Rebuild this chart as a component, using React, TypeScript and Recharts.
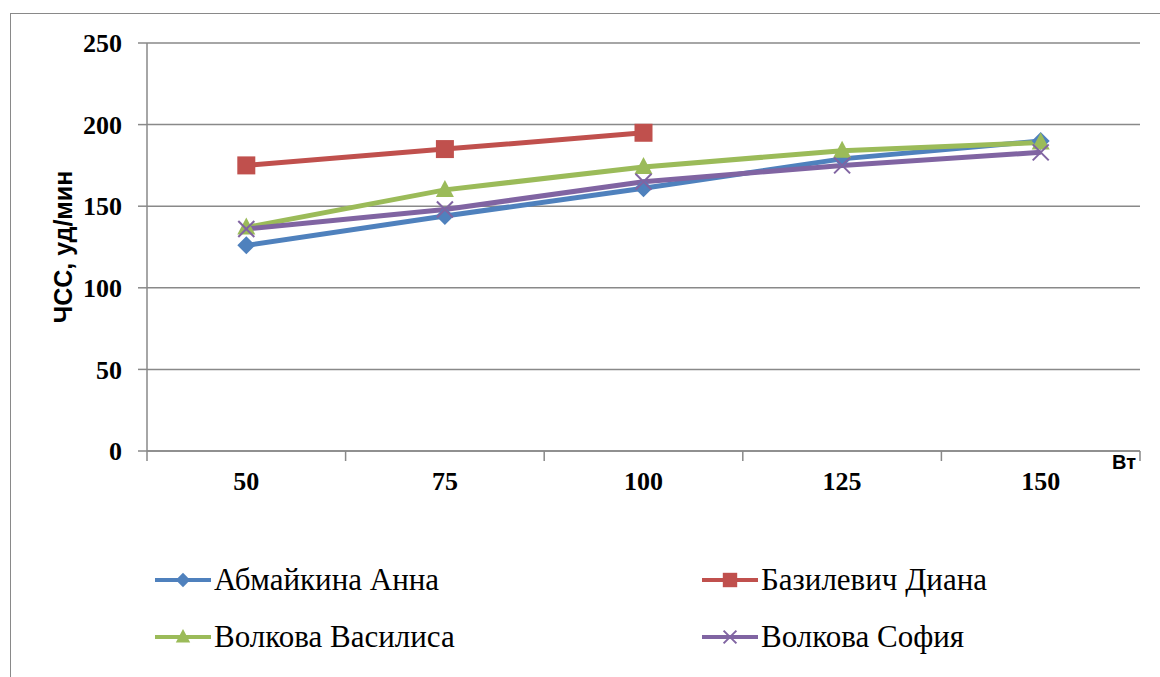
import { LineChart, Line, XAxis, YAxis, CartesianGrid, Legend } from 'recharts'

const categories = ['50', '75', '100', '125', '150']
const abmaikina = [126, 144, 161, 179, 190]
const bazilevich = [175, 185, 195, null, null]
const volkovaV = [137, 160, 174, 184, 189]
const volkovaS = [136, 148, 165, 175, 183]
const yTicks = [0, 50, 100, 150, 200, 250]

const SERIES = [
  { key: 'a', name: 'Абмайкина Анна', color: '#4F81BD', shape: 'diamond' },
  { key: 'b', name: 'Базилевич Диана', color: '#C0504D', shape: 'square' },
  { key: 'v', name: 'Волкова Василиса', color: '#9BBB59', shape: 'triangle' },
  { key: 's', name: 'Волкова София', color: '#8064A2', shape: 'x' },
]

const data = categories.map((w, i) => ({
  w,
  a: abmaikina[i],
  b: bazilevich[i],
  v: volkovaV[i],
  s: volkovaS[i],
}))

const GRAY = '#898989'
const SERIF = "'Liberation Serif', 'Times New Roman', serif"
const SANS = "'Liberation Sans', Arial, sans-serif"

function Marker({ shape, color, cx, cy, k = 1 }: any) {
  if (shape === 'diamond') {
    const r = 9 * k
    return <polygon points={`${cx},${cy - r} ${cx + r},${cy} ${cx},${cy + r} ${cx - r},${cy}`} fill={color} />
  }
  if (shape === 'square') {
    const r = 9 * k
    return <rect x={cx - r} y={cy - r} width={r * 2} height={r * 2} fill={color} />
  }
  if (shape === 'triangle') {
    return <polygon points={`${cx},${cy - 10 * k} ${cx + 9 * k},${cy + 7 * k} ${cx - 9 * k},${cy + 7 * k}`} fill={color} />
  }
  const r = 8 * k
  return (
    <g stroke={color} strokeWidth={2}>
      <line x1={cx - r} y1={cy - r} x2={cx + r} y2={cy + r} />
      <line x1={cx - r} y1={cy + r} x2={cx + r} y2={cy - r} />
    </g>
  )
}

function makeDot(shape: string, color: string) {
  return (p: any) => {
    if (p.cx == null || p.cy == null || p.value == null) return <g key={`d-${p.index}`} />
    return <Marker key={`d-${p.index}`} shape={shape} color={color} cx={p.cx} cy={p.cy} />
  }
}

function XTick(props: any) {
  const { x, y, payload, index, visibleTicksCount } = props
  const off = payload?.offset ?? 0
  const last = index === visibleTicksCount - 1
  return (
    <g>
      <line x1={x - off} x2={x - off} y1={y} y2={y + 10} stroke={GRAY} strokeWidth={1.5} />
      {last && <line x1={x + off} x2={x + off} y1={y} y2={y + 10} stroke={GRAY} strokeWidth={1.5} />}
      <text x={x} y={y + 30} dy="0.35em" textAnchor="middle" fontFamily={SERIF} fontWeight="bold" fontSize={26} fill="#000">
        {payload.value}
      </text>
    </g>
  )
}

function YLabel({ viewBox }: any) {
  const cx = viewBox.x + 63
  const cy = viewBox.y + viewBox.height / 2
  return (
    <text
      transform={`translate(${cx},${cy}) rotate(-90)`}
      textAnchor="middle"
      dy="0.35em"
      fontFamily={SANS}
      fontWeight="bold"
      fontSize={25}
      fill="#000"
    >
      ЧСС, уд/мин
    </text>
  )
}

function LegendContent() {
  const pos = [
    { left: 155, top: 20 },
    { left: 702, top: 20 },
    { left: 155, top: 77 },
    { left: 702, top: 77 },
  ]
  return (
    <div style={{ position: 'relative', width: 1160, height: 140 }}>
      {SERIES.map((s, i) => (
        <div
          key={s.key}
          style={{ position: 'absolute', left: pos[i].left, top: pos[i].top, display: 'flex', alignItems: 'center', height: 30 }}
        >
          <svg width={56} height={24}>
            <line x1={0} x2={56} y1={12} y2={12} stroke={s.color} strokeWidth={4} />
            <Marker shape={s.shape} color={s.color} cx={28} cy={12} k={0.8} />
          </svg>
          <span style={{ fontFamily: SERIF, fontSize: 31, color: '#000', marginLeft: 3, lineHeight: '30px', whiteSpace: 'nowrap' }}>
            {s.name}
          </span>
        </div>
      ))}
    </div>
  )
}

export default function App() {
  return (
    <div style={{ position: 'absolute', left: 0, top: 0, width: 1160, height: 677, background: '#fff' }}>
      <div style={{ position: 'absolute', left: 10, top: 13, width: 1152, height: 672, border: `1px solid ${GRAY}` }} />
      <div style={{ position: 'absolute', left: 0, top: 0 }}>
        <LineChart width={1160} height={677} data={data} margin={{ top: 43, right: 20, left: 0, bottom: 26 }}>
          <CartesianGrid vertical={false} stroke={GRAY} strokeWidth={1.5} />
          <XAxis
            dataKey="w"
            scale="band"
            height={60}
            tickLine={false}
            tickSize={0}
            tickMargin={0}
            axisLine={{ stroke: GRAY, strokeWidth: 1.5 }}
            tick={<XTick />}
            interval={0}
            label={{
              value: 'Вт',
              position: 'insideTopRight',
              offset: 4,
              style: { fontFamily: SANS, fontWeight: 'bold', fontSize: 20, fill: '#000' },
            }}
          />
          <YAxis
            width={147}
            domain={[0, 250]}
            ticks={yTicks}
            interval={0}
            tickSize={9}
            tickMargin={16}
            axisLine={{ stroke: GRAY, strokeWidth: 1.5 }}
            tickLine={{ stroke: GRAY, strokeWidth: 1.5 }}
            tick={{ fontFamily: SERIF, fontWeight: 'bold', fontSize: 26, fill: '#000' }}
            label={<YLabel />}
          />
          <Legend
            verticalAlign="bottom"
            content={<LegendContent />}
            wrapperStyle={{ left: 0, top: 545, bottom: 'auto', width: 1160, height: 140 }}
          />
          {SERIES.map((s) => (
            <Line
              key={s.key}
              dataKey={s.key}
              name={s.name}
              stroke={s.color}
              strokeWidth={5}
              dot={makeDot(s.shape, s.color)}
              activeDot={false}
              isAnimationActive={false}
            />
          ))}
        </LineChart>
      </div>
    </div>
  )
}
